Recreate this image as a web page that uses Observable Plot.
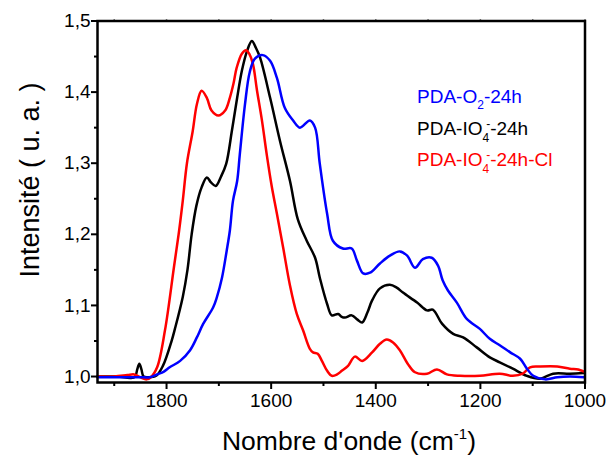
<!DOCTYPE html>
<html><head><meta charset="utf-8">
<script src="https://cdn.jsdelivr.net/npm/d3@7"></script>
<script src="https://cdn.jsdelivr.net/npm/@observablehq/plot@0.6"></script>
<style>html,body{margin:0;padding:0;background:#fff;} svg{display:block}</style>
</head><body><div id="chart"></div>
<script>
// ---- data (wavenumber cm-1, intensity u.a.) ----
const wavenumberTicks = [1800, 1600, 1400, 1200, 1000];
const wavenumberMinorTicks = [1900, 1700, 1500, 1300, 1100];
const intensityTicks = [1.0, 1.1, 1.2, 1.3, 1.4, 1.5];
const intensityMinorTicks = [1.05, 1.15, 1.25, 1.35, 1.45];
const seriesNames = ["PDA-O2-24h", "PDA-IO4--24h", "PDA-IO4--24h-Cl"];
const seriesColors = ["#0000ff", "#000000", "#ff0000"];

const bluePDA_O2 = [[1932,0.999],[1880,0.999],[1850,0.999],[1832,0.999],[1818,1.003],[1805,1.007],[1794,1.013],[1774,1.022],[1755,1.037],[1742,1.055],[1730,1.074],[1711,1.097],[1704,1.111],[1694,1.139],[1685,1.177],[1679,1.205],[1673,1.247],[1665,1.275],[1660,1.312],[1650,1.383],[1641,1.428],[1631,1.447],[1616,1.452],[1602,1.444],[1589,1.420],[1574,1.378],[1558,1.360],[1545,1.350],[1526,1.360],[1516,1.350],[1507,1.299],[1493,1.229],[1482,1.191],[1463,1.180],[1446,1.180],[1436,1.163],[1424,1.145],[1411,1.146],[1392,1.159],[1373,1.170],[1354,1.176],[1340,1.170],[1325,1.153],[1310,1.165],[1293,1.167],[1281,1.156],[1272,1.135],[1262,1.121],[1245,1.104],[1226,1.081],[1201,1.067],[1182,1.053],[1163,1.044],[1143,1.034],[1124,1.025],[1111,1.011],[1099,1.001],[1076,0.996],[1053,0.999],[1029,1.000],[1002,0.999]];

const blackPDA_IO4 = [[1932,1.000],[1895,1.000],[1868,0.998],[1860,1.000],[1856,1.010],[1852,1.018],[1848,1.010],[1844,1.000],[1835,0.999],[1820,1.001],[1807,1.015],[1790,1.051],[1784,1.067],[1769,1.112],[1760,1.150],[1752,1.200],[1743,1.240],[1733,1.266],[1723,1.280],[1715,1.273],[1706,1.268],[1696,1.281],[1686,1.299],[1675,1.346],[1665,1.392],[1656,1.430],[1646,1.458],[1637,1.472],[1629,1.462],[1621,1.448],[1602,1.392],[1583,1.331],[1564,1.275],[1549,1.221],[1532,1.191],[1516,1.167],[1507,1.139],[1493,1.102],[1484,1.086],[1472,1.088],[1465,1.084],[1459,1.083],[1446,1.086],[1435,1.080],[1426,1.076],[1416,1.090],[1407,1.107],[1392,1.124],[1373,1.129],[1360,1.125],[1348,1.118],[1321,1.104],[1302,1.093],[1291,1.094],[1273,1.074],[1252,1.060],[1233,1.055],[1207,1.041],[1182,1.027],[1163,1.020],[1138,1.011],[1111,1.001],[1086,0.997],[1061,1.004],[1029,1.004],[1002,1.005]];

const redPDA_IO4_Cl = [[1932,1.000],[1900,1.000],[1875,1.002],[1862,1.003],[1850,0.999],[1838,0.996],[1830,0.999],[1818,1.013],[1803,1.065],[1786,1.153],[1776,1.205],[1769,1.247],[1761,1.300],[1750,1.345],[1742,1.383],[1733,1.402],[1723,1.392],[1714,1.374],[1701,1.367],[1688,1.374],[1679,1.392],[1672,1.412],[1666,1.434],[1656,1.454],[1648,1.459],[1642,1.454],[1635,1.440],[1627,1.402],[1618,1.362],[1608,1.310],[1599,1.268],[1589,1.229],[1577,1.181],[1564,1.128],[1551,1.088],[1539,1.065],[1526,1.039],[1520,1.034],[1511,1.032],[1503,1.022],[1493,1.008],[1484,1.001],[1474,1.003],[1465,1.008],[1453,1.015],[1440,1.028],[1426,1.022],[1407,1.034],[1392,1.046],[1379,1.052],[1367,1.048],[1354,1.037],[1339,1.018],[1325,1.006],[1302,1.004],[1283,1.010],[1264,1.003],[1239,1.001],[1201,1.001],[1163,1.004],[1138,1.001],[1119,1.004],[1105,1.013],[1086,1.014],[1053,1.014],[1029,1.011],[1013,1.010],[1002,1.007]];

const toRows = (arr) => arr.map(([w, v]) => ({w, v}));
const fmtComma = d => d.toFixed(1).replace(".", ",");
const FONT = "'Liberation Sans', Arial, Helvetica, sans-serif";

const plot = Plot.plot({
  width: 608,
  height: 457,
  marginLeft: 97,
  marginRight: 23.5,
  marginTop: 20.5,
  marginBottom: 75,
  x: {domain: [1932, 1000], label: null},
  y: {domain: [0.9916, 1.5], label: null},
  style: {fontFamily: FONT, fontSize: "19px", color: "#000", background: "#fff"},
  marks: [
    Plot.line(toRows(blackPDA_IO4), {x: "w", y: "v", stroke: seriesColors[1], strokeWidth: 2.5, curve: "catmull-rom"}),
    Plot.line(toRows(redPDA_IO4_Cl), {x: "w", y: "v", stroke: seriesColors[2], strokeWidth: 2.5, curve: "catmull-rom"}),
    Plot.line(toRows(bluePDA_O2), {x: "w", y: "v", stroke: seriesColors[0], strokeWidth: 2.5, curve: "catmull-rom"}),
    Plot.axisX(wavenumberTicks, {tickSize: 7, tickPadding: 4, strokeWidth: 2, label: null, tickFormat: d => String(d)}),
    Plot.axisX(wavenumberMinorTicks, {tickSize: 4, strokeWidth: 2, label: null, tickFormat: () => ""}),
    Plot.axisX(wavenumberTicks.concat(wavenumberMinorTicks), {anchor: "top", tickSize: 2, strokeWidth: 1.5, label: null, tickFormat: () => ""}),
    Plot.axisY(intensityTicks, {tickSize: 6, tickPadding: 1, strokeWidth: 2, label: null, tickFormat: fmtComma}),
    Plot.axisY(intensityMinorTicks, {tickSize: 3, strokeWidth: 2, label: null, tickFormat: () => ""}),
    Plot.frame({stroke: "#000", strokeWidth: 2.5})
  ]
});
document.getElementById("chart").appendChild(plot);

// ---- titles and legend (with sub/superscripts) ----
const svg = d3.select(plot);
const g = svg.append("g").attr("font-family", FONT).attr("fill", "#000");

// x title
const xt = g.append("text").attr("x", 349).attr("y", 450).attr("text-anchor", "middle").attr("font-size", 26.5);
xt.append("tspan").text("Nombre d'onde (cm");
xt.append("tspan").attr("font-size", 15).attr("dy", -11).text("-1");
xt.append("tspan").attr("dy", 11).text(")");

// y title
g.append("text").attr("transform", "translate(39,180) rotate(-90)").attr("text-anchor", "middle")
  .attr("font-size", 27).text("Intensité ( u. a. )");

// legend
const leg = g.append("g").attr("font-size", 19).attr("text-anchor", "start");
const l1 = leg.append("text").attr("x", 417).attr("y", 103).attr("fill", seriesColors[0]);
l1.append("tspan").text("PDA-O");
l1.append("tspan").attr("font-size", 12).attr("dy", 6).text("2");
l1.append("tspan").attr("dy", -6).text("-24h");

const l2 = leg.append("text").attr("x", 417).attr("y", 135).attr("fill", seriesColors[1]);
l2.append("tspan").text("PDA-IO");
l2.append("tspan").attr("font-size", 12).attr("dy", 7).text("4");
l2.append("tspan").attr("font-size", 12).attr("dx", -3).attr("dy", -14).text("-");
l2.append("tspan").attr("dy", 7).text("-24h");

const l3 = leg.append("text").attr("x", 417).attr("y", 166).attr("fill", seriesColors[2]);
l3.append("tspan").text("PDA-IO");
l3.append("tspan").attr("font-size", 12).attr("dy", 7).text("4");
l3.append("tspan").attr("font-size", 12).attr("dx", -3).attr("dy", -14).text("-");
l3.append("tspan").attr("dy", 7).text("-24h-Cl");
</script>
</body></html>
